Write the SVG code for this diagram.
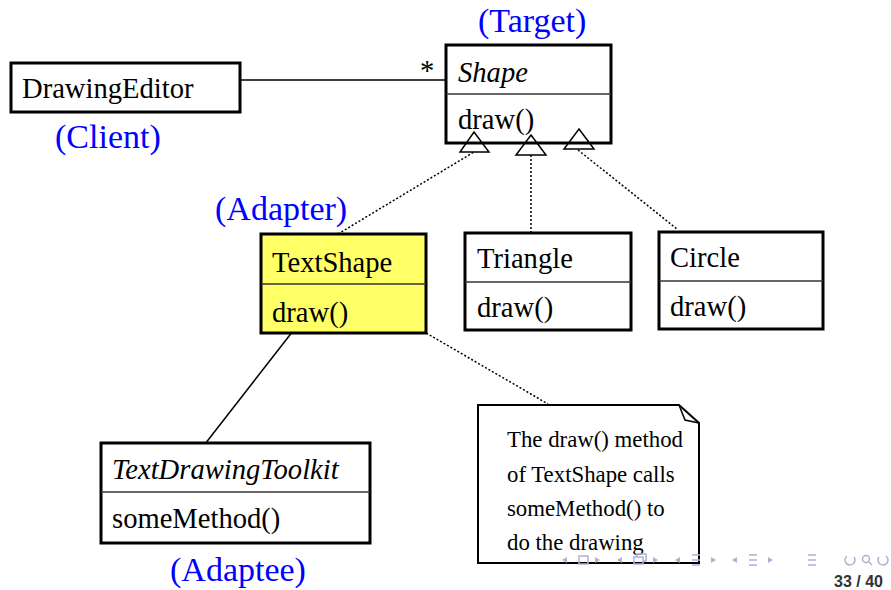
<svg xmlns="http://www.w3.org/2000/svg" width="891" height="590" viewBox="0 0 891 590">
  <style>
    .box { fill: #ffffff; stroke: #000000; stroke-width: 3; }
    .adapter { fill: #ffff66; stroke: #000000; stroke-width: 3; }
    .div { stroke: #333333; stroke-width: 1.5; }
    .t { font-size: 28.6px; fill: #000000; }
    .it { font-style: italic; }
    .role { font-size: 34px; fill: #0000ff; }
    .note { font-size: 22.8px; fill: #000000; }
    .solid { stroke: #000000; stroke-width: 1.5; fill: none; }
    .dotted { stroke: #000000; stroke-width: 1.5; stroke-dasharray: 2 2; fill: none; }
    .gen { fill: none; stroke: #000000; stroke-width: 1.5; }
    .nav { fill: #aab2da; stroke: none; }
    .navs { fill: none; stroke: #aab2da; stroke-width: 1.5; }
  </style>

  <g font-family="Liberation Serif, Times New Roman, serif">
  <!-- connectors -->
  <g id="connectors">
    <line class="solid" x1="237" y1="80" x2="446" y2="80"/>
    <text class="t" x="420" y="80">*</text>
    <line class="dotted" x1="338" y1="234" x2="474" y2="152"/>
    <line class="dotted" x1="531" y1="233" x2="531" y2="155"/>
    <line class="dotted" x1="578" y1="150" x2="677" y2="229"/>
    <line class="solid" x1="300" y1="322" x2="205" y2="444"/>
    <line class="dotted" x1="409" y1="323" x2="548" y2="404"/>
  </g>

  <!-- DrawingEditor (Client) -->
  <g id="drawing-editor">
    <rect class="box" x="11" y="63" width="229" height="49"/>
    <text class="t" x="22" y="98">DrawingEditor</text>
    <text class="role" x="55" y="148">(Client)</text>
  </g>

  <!-- Shape (Target) -->
  <g id="shape">
    <text class="role" x="478" y="32">(Target)</text>
    <rect class="box" x="446" y="45" width="165" height="98"/>
    <line class="div" x1="446" y1="94" x2="611" y2="94"/>
    <text class="t it" x="458" y="82">Shape</text>
    <text class="t" x="458" y="129">draw()</text>
    <polygon class="gen" points="474,132 489,152 460,152"/>
    <polygon class="gen" points="531,135 546,155 516,155"/>
    <polygon class="gen" points="579,129 594,149 564,149"/>
  </g>

  <!-- TextShape (Adapter) -->
  <g id="text-shape">
    <text class="role" x="215" y="220">(Adapter)</text>
    <rect class="adapter" x="261" y="234" width="165" height="99"/>
    <line class="div" x1="261" y1="284" x2="426" y2="284"/>
    <text class="t" x="272" y="272">TextShape</text>
    <text class="t" x="272" y="322">draw()</text>
  </g>

  <!-- Triangle -->
  <g id="triangle">
    <rect class="box" x="465" y="233" width="166" height="97"/>
    <line class="div" x1="465" y1="282" x2="631" y2="282"/>
    <text class="t" x="477" y="268">Triangle</text>
    <text class="t" x="477" y="317">draw()</text>
  </g>

  <!-- Circle -->
  <g id="circle">
    <rect class="box" x="659" y="232" width="164" height="97"/>
    <line class="div" x1="659" y1="281" x2="823" y2="281"/>
    <text class="t" x="670" y="267">Circle</text>
    <text class="t" x="670" y="316">draw()</text>
  </g>

  <!-- TextDrawingToolkit (Adaptee) -->
  <g id="text-drawing-toolkit">
    <rect class="box" x="101" y="443" width="269" height="100"/>
    <line class="div" x1="101" y1="492" x2="370" y2="492"/>
    <text class="t it" x="112" y="479">TextDrawingToolkit</text>
    <text class="t" x="112" y="528">someMethod()</text>
    <text class="role" x="170" y="581">(Adaptee)</text>
  </g>

  <!-- note -->
  <g id="note">
    <path d="M478,405 L679,405 L699,423 L699,563 L478,563 Z" fill="#ffffff" stroke="#000000" stroke-width="2"/>
    <path d="M679,405 L685,420 L699,423" fill="none" stroke="#000000" stroke-width="1.5"/>
    <text class="note" x="507" y="447">The draw() method</text>
    <text class="note" x="507" y="482">of TextShape calls</text>
    <text class="note" x="507" y="516">someMethod() to</text>
    <text class="note" x="507" y="550">do the drawing</text>
  </g>
  </g>

  <!-- navigation symbols -->
  <g id="navigation">
    <polygon class="nav" points="562,560 567,557 567,563"/>
    <rect class="navs" x="579" y="556" width="9" height="8"/>
    <polygon class="nav" points="600,560 595,557 595,563"/>
    <polygon class="nav" points="617,560 622,557 622,563"/>
    <rect class="navs" x="634" y="557" width="9" height="7"/>
    <path class="navs" d="M637,557 V554 H646 V561 H643"/>
    <polygon class="nav" points="658,560 653,557 653,563"/>
    <polygon class="nav" points="675,560 680,557 680,563"/>
    <path class="navs" d="M692,555 H700 M692,560 H700 M692,565 H700"/>
    <polygon class="nav" points="716,560 711,557 711,563"/>
    <polygon class="nav" points="732,560 737,557 737,563"/>
    <path class="navs" d="M749,555 H757 M749,560 H757 M749,565 H757"/>
    <polygon class="nav" points="773,560 768,557 768,563"/>
    <path class="navs" d="M808,555 H816 M808,560 H816 M808,565 H816"/>
    <path class="navs" d="M847,556 A5,5 0 1 0 854,557"/>
    <circle class="navs" cx="866" cy="559" r="3.5"/>
    <line class="navs" x1="869" y1="562" x2="872" y2="565"/>
    <path class="navs" d="M886,556 A5,5 0 1 1 879,557"/>
    <text x="883" y="587" text-anchor="end" font-family="Liberation Sans, Arial, sans-serif" font-size="16" font-weight="bold" fill="#333333">33 / 40</text>
  </g>
</svg>
